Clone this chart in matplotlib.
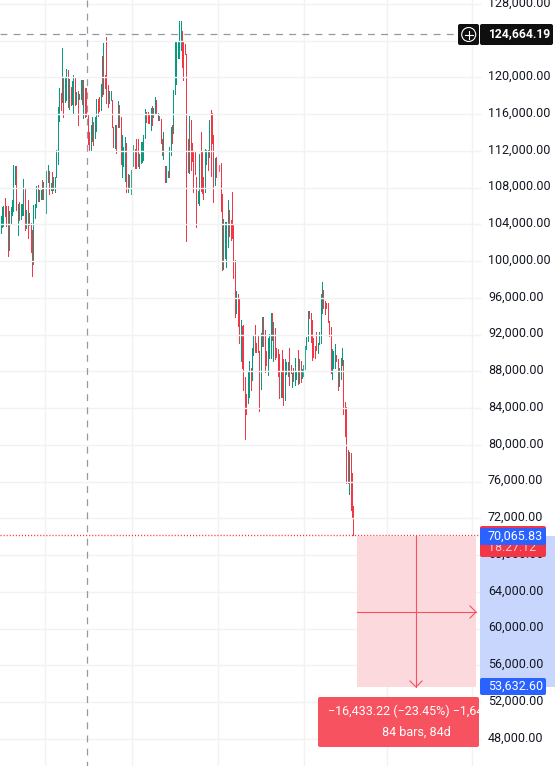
import numpy as np
import matplotlib
matplotlib.use('Agg')
import matplotlib.pyplot as plt
from matplotlib.patches import Rectangle, FancyBboxPatch, Circle

# daily candles, prices in thousands
opens = [106.3,103.8,103.8,104.9,105.9,105.9,104.5,104.0,104.5,105.0,105.6,108.4,108.8,105.7,106.2,104.7,105.1,105.1,107.8,103.6,
         105.2,104.0,104.1,103.1,99.8,105.2,106.0,108.1,106.7,106.9,108.5,107.0,107.6,105.2,108.6,109.7,107.7,109.6,107.8,108.4,
         109.2,112.0,116.7,118.2,117.5,119.8,117.5,117.8,120.0,117.5,118.4,117.2,117.1,119.4,117.3,118.4,117.7,117.8,119.3,115.7,
         118.7,117.8,116.0,114.0,112.1,113.9,115.1,114.2,115.0,117.5,117.8,116.4,119.3,118.2,120.3,119.3,119.2,117.3,117.5,117.5,
         114.6,112.4,114.6,114.6,117.0,114.8,110.7,110.4,108.8,112.4,107.5,109.4,108.4,108.5,110.3,111.2,111.3,111.3,110.3,110.7,
         110.8,111.0,113.5,116.2,116.2,116.0,114.8,116.9,115.7,116.1,117.5,115.4,115.8,115.4,113.3,111.7,110.3,108.6,109.8,109.2,
         111.5,114.8,113.9,119.3,119.3,122.1,123.0,123.2,125.0,123.8,123.4,122.5,113.3,109.7,115.4,112.8,112.0,111.9,109.2,106.4,
         106.3,111.7,111.9,109.2,107.6,110.7,112.1,111.3,116.4,116.1,113.7,109.3,111.3,109.5,110.5,110.7,107.3,100.4,100.4,102.0,
         101.6,105.6,104.5,105.4,102.5,100.0,94.3,96.4,95.9,89.1,92.9,93.0,87.4,85.5,84.6,85.2,88.4,87.1,90.0,91.1,
         91.1,90.4,90.2,86.1,90.8,93.9,92.5,90.2,88.8,89.5,89.5,94.3,89.3,92.7,90.5,90.4,89.9,85.2,89.3,89.3,
         85.0,87.7,87.8,88.7,88.7,86.5,88.4,86.9,87.2,88.0,87.2,89.1,87.3,88.2,89.2,90.4,91.3,94.6,94.3,93.6,
         91.6,90.7,90.7,90.1,91.0,91.1,94.4,96.9,95.7,95.4,95.4,93.5,92.8,88.4,88.4,88.6,89.8,89.3,86.4,87.2,
         88.7,89.2,84.7,84.1,79.4,74.6,79.1,76.9,73.3]
highs = [106.4,104.9,105.9,106.0,106.9,106.0,106.0,105.4,105.9,106.6,110.5,110.4,110.4,106.2,106.4,106.2,106.2,108.9,107.9,105.6,
         106.6,105.2,104.1,103.4,106.1,106.2,108.2,108.3,107.7,107.7,108.8,108.6,107.6,109.8,110.5,109.8,108.5,109.7,109.2,109.2,
         112.1,116.8,118.8,118.3,123.2,119.9,120.0,120.9,120.8,119.8,118.9,119.6,120.2,120.0,118.4,118.5,118.2,119.7,119.7,119.7,
         118.8,118.8,116.0,114.0,114.8,115.7,115.1,115.7,117.6,117.6,117.9,119.3,122.3,123.7,120.3,124.4,119.2,118.5,118.5,117.5,
         114.6,114.8,114.8,117.4,117.0,115.7,113.7,112.4,113.5,112.8,109.5,109.4,109.9,111.7,112.6,112.2,113.3,113.3,111.7,113.0,
         113.0,113.7,116.6,116.2,116.2,116.0,116.7,116.9,116.7,117.9,117.5,116.1,115.8,115.5,113.3,114.0,110.3,110.4,109.8,112.4,
         114.6,114.8,118.6,123.9,123.9,123.9,126.1,126.1,125.0,123.8,123.6,122.5,113.3,115.8,115.4,112.8,112.0,111.9,109.2,107.6,
         111.7,114.0,111.9,109.2,112.2,112.1,112.1,115.4,116.4,116.1,113.7,111.2,111.3,111.3,110.5,110.7,107.3,104.6,104.2,104.2,
         106.6,105.6,104.5,107.5,104.0,100.1,96.7,96.4,95.9,93.6,92.9,93.0,87.4,85.5,88.0,89.1,88.4,90.5,91.8,93.0,
         91.1,91.9,90.2,92.2,93.9,93.9,92.5,90.2,91.6,92.1,94.4,94.3,93.4,92.7,90.5,90.4,89.9,88.0,90.3,89.3,
         89.3,89.0,89.0,90.5,88.7,87.8,88.4,89.4,87.9,90.3,89.3,89.1,88.2,88.7,90.8,91.7,94.6,94.6,94.3,93.6,
         91.6,90.7,92.3,91.1,92.3,96.4,97.7,96.9,95.7,95.4,95.4,93.5,92.8,90.4,90.2,91.0,89.8,89.3,88.4,89.4,
         90.5,89.2,84.7,84.1,79.4,79.2,79.1,76.9,73.3]
lows = [103.4,103.1,103.7,103.8,104.9,103.8,100.5,101.2,104.0,105.0,105.4,108.4,105.6,102.8,104.5,104.6,105.0,105.0,103.4,103.6,
        102.5,103.9,101.0,98.4,99.7,104.7,105.9,106.5,106.5,106.8,106.7,106.7,105.2,105.2,108.6,107.3,107.7,107.4,107.7,107.5,
        109.2,110.6,115.2,116.4,117.3,115.7,117.3,117.5,116.8,116.5,117.0,117.1,116.0,117.0,117.1,114.8,117.6,117.6,117.1,115.6,
        115.7,115.8,112.7,112.1,112.0,113.1,112.6,113.4,114.2,115.8,116.3,116.4,118.0,118.2,118.8,117.2,116.8,117.2,117.5,114.6,
        112.4,112.3,111.8,114.6,114.6,110.6,109.2,110.3,108.7,107.5,107.5,107.9,107.3,108.4,110.3,110.1,110.1,110.3,110.1,110.7,
        110.8,111.0,113.4,115.1,115.0,115.0,114.3,114.8,115.7,116.0,116.0,115.4,115.3,112.8,111.5,111.1,108.6,108.6,109.2,109.2,
        111.5,112.8,113.9,118.2,119.3,122.1,122.1,123.0,121.1,119.7,122.5,102.2,109.7,109.6,109.9,110.9,107.5,109.5,103.7,106.3,
        106.1,107.6,107.4,106.7,107.5,110.6,109.9,111.3,109.3,112.8,106.4,108.3,109.2,109.5,109.8,105.4,99.0,99.1,100.3,99.4,
        101.5,102.7,102.3,102.5,98.2,93.9,94.3,92.9,91.1,89.1,88.4,86.0,80.6,83.3,84.6,85.2,86.0,87.1,89.8,90.1,
        90.1,90.1,83.7,86.1,90.7,90.8,87.9,88.7,87.6,89.5,89.5,91.4,89.1,89.3,89.6,87.5,85.1,85.2,85.2,84.3,
        84.9,87.7,87.5,86.5,87.8,86.3,86.9,86.5,87.2,86.6,86.7,86.8,87.3,87.5,88.2,90.4,91.3,93.8,91.2,89.2,
        89.6,89.5,90.3,90.0,91.0,91.1,94.4,94.9,94.2,94.9,93.4,91.8,87.8,87.2,88.4,88.4,89.1,86.0,86.4,87.2,
        88.7,83.3,81.0,75.8,75.8,74.6,72.9,72.0,70.2]
closes = [103.8,104.9,105.9,105.9,105.0,104.5,103.8,105.3,105.9,105.6,110.4,109.9,105.7,106.2,104.6,105.6,105.6,108.1,103.6,105.2,
          103.9,104.9,101.0,99.7,106.0,106.1,108.1,106.7,107.7,107.6,106.7,108.5,105.2,109.7,109.7,107.7,108.4,107.8,108.5,109.2,
          112.0,116.7,118.7,116.9,119.3,117.5,120.0,120.0,117.5,118.4,117.2,118.5,119.6,117.3,118.0,117.3,118.1,119.3,117.3,118.7,
          115.7,116.0,112.7,112.2,114.0,115.1,114.2,115.0,117.5,116.0,116.4,119.3,118.0,120.3,118.8,117.2,117.3,118.0,118.2,114.6,
          112.7,114.6,112.1,117.2,114.8,110.7,112.4,112.2,112.4,107.6,109.4,107.9,109.5,109.9,111.2,110.4,110.3,110.3,111.5,112.9,
          112.8,113.3,115.5,115.1,115.0,115.0,116.7,115.0,116.6,117.5,116.0,116.0,115.3,112.8,111.5,113.3,108.6,109.7,109.2,111.5,
          113.9,113.9,118.5,121.1,122.9,123.8,125.7,125.6,121.1,121.1,122.5,113.3,109.7,115.6,112.4,110.9,107.5,109.5,107.6,107.6,
          107.6,107.6,107.4,107.0,111.3,111.9,110.0,113.7,113.7,112.8,109.3,111.2,109.2,110.5,109.8,107.4,105.4,104.6,104.1,104.1,
          105.6,102.7,102.3,102.5,101.0,97.9,96.7,92.9,92.9,93.6,88.4,86.0,86.0,83.3,88.0,88.0,86.4,90.5,90.5,90.1,
          90.1,90.1,86.1,92.2,93.9,90.8,88.7,88.7,90.2,92.1,92.0,91.4,93.4,89.3,89.6,89.6,85.1,88.0,85.2,85.1,
          89.3,88.4,88.4,87.8,87.8,87.8,86.9,88.4,87.8,87.2,89.3,86.8,88.2,88.7,90.6,91.7,94.6,93.8,91.2,90.5,
          90.4,90.0,90.3,91.1,92.3,96.4,96.9,94.9,94.9,94.9,93.4,91.8,91.8,90.4,90.2,89.8,89.1,88.4,88.2,89.4,
          89.2,83.3,83.3,79.4,75.8,79.2,72.9,72.0,70.2]

price_ticks = [128000,124000,120000,116000,112000,108000,104000,100000,96000,92000,88000,84000,80000,76000,72000,68000,64000,60000,56000,52000,48000]
time_grid = [32,93,153,213,271,331]
last_price = 70065.83
high_price = 124664.19
target_price = 53632.60

W, H = 555, 766
plt.rcParams['font.family'] = ['Roboto', 'DejaVu Sans']
GREEN = '#089981'
RED = '#f23645'
TOOL = '#f7525f'
AXIS_X = 480
FS = 9.0
TOP_PX = 3.8
PX_PER_4K = 36.75

opens, highs, lows, closes = [np.array(a) * 1000 for a in (opens, highs, lows, closes)]
days = np.arange(len(opens))
colors = [GREEN if c >= o else RED for o, c in zip(opens, closes)]

fig = plt.figure(figsize=(W / 100, H / 100), dpi=100)
ax = fig.add_axes([0, 0, 1, 1])
bar_px = 120 / 84
ax.set_xlim(0.6, 0.6 + W / bar_px)
top = 128000 + TOP_PX * 4000 / PX_PER_4K
ax.set_ylim(top - H * 4000 / PX_PER_4K, top)
ax.axis('off')
px = fig.add_axes([0, 0, 1, 1])
px.set_xlim(0, W)
px.set_ylim(H, 0)
px.axis('off')
px.patch.set_alpha(0)

def price_y(p):
    return TOP_PX + (128000 - p) * PX_PER_4K / 4000

# grid stops at the price axis
for p in price_ticks:
    px.plot([0, AXIS_X], [price_y(p)] * 2, color='#f1f2f4', lw=1.0, zorder=1)
for d in time_grid:
    x = (d - 0.3) * bar_px
    px.plot([x, x], [0, H], color='#f1f2f4', lw=1.0, zorder=1)

ax.set_zorder(2)
px.set_zorder(3)
ax.vlines(days, lows, highs, colors=colors, lw=0.5, antialiased=False)
ax.vlines(days, np.minimum(opens, closes), np.maximum(opens, closes), colors=colors, lw=0.72, antialiased=False)

# crosshair and last price
y_high = price_y(high_price)
x_cross = 86.5
px.plot([x_cross, x_cross], [0, H], color='#9598a1', lw=0.9, dashes=(5.5, 5), zorder=2)
px.plot([0, 458], [y_high, y_high], color='#9598a1', lw=0.9, dashes=(5.5, 5), zorder=2)
y_last = price_y(last_price)
px.plot([0, AXIS_X], [y_last - 1.5] * 2, color=RED, lw=1.0, dashes=(0.8, 1.4), zorder=2)

# short position tool
y_target = price_y(target_price)
px.add_patch(Rectangle((357, y_last), 119, y_target - y_last, fc='#fcd9dc', ec='none', zorder=2))
px.add_patch(Rectangle((AXIS_X, y_last), W - AXIS_X, y_target - y_last, fc='#c8d6fd', ec='none', zorder=2))
px.plot([357, 476], [612, 612], color=TOOL, lw=0.8, zorder=3)
px.plot([470, 476, 470], [606, 612, 618], color=TOOL, lw=0.8, zorder=3)
px.plot([416, 416], [536, y_target], color=TOOL, lw=0.8, zorder=3)
px.plot([410, 416, 422], [681, 687, 681], color=TOOL, lw=0.8, zorder=3)

# price axis labels
for p in price_ticks:
    px.text(488, price_y(p) - 0.8, f'{p:,.2f}', fontsize=FS, color='#131722', va='center', ha='left', zorder=4)

def tag(x, y, w, h, color, z):
    px.add_patch(FancyBboxPatch((x, y), w, h, boxstyle='round,pad=0,rounding_size=2', fc=color, ec='none', zorder=z))

# black high label with plus button
tag(458, 24, 21, 21, '#0f0f0f', 5)
tag(480, 24, 73, 21, '#0f0f0f', 5)
px.add_patch(Circle((468.7, 34.5), 7, fc='none', ec='white', lw=0.8, zorder=6))
px.plot([464.7, 472.7], [34.5, 34.5], color='white', lw=0.8, zorder=6)
px.plot([468.7, 468.7], [30.5, 38.5], color='white', lw=0.8, zorder=6)
px.text(488, 34, f'{high_price:,.2f}', fontsize=FS - 0.3, fontweight='bold', color='white', va='center', zorder=6)

# last price and countdown
tag(480, 526, 66, 31, RED, 5)
tag(480, 528, 66, 17, '#2962ff', 6)
px.text(488, 535.8, f'{last_price:,.2f}', fontsize=FS, color='white', va='center', zorder=7)
px.text(488, 547.5, '18:27:12', fontsize=FS, color='#fbc9cd', va='center', zorder=5.5)

tag(480, 678, 66, 17, '#2962ff', 6)
px.text(488, 686.3, f'{target_price:,.2f}', fontsize=FS, color='white', va='center', zorder=7)

# tooltip, first row runs past the box
box = FancyBboxPatch((318, 697), 161, 50, boxstyle='round,pad=0,rounding_size=2', fc=TOOL, ec='none', zorder=5)
px.add_patch(box)
t = px.text(328, 711, '\u221216,433.22 (\u221223.45%) \u22121,643', fontsize=FS, color='white', va='center', zorder=6)
t.set_clip_path(Rectangle((318, 697), 161, 50, transform=px.transData))
px.text(416, 732, '84 bars, 84d', fontsize=FS, color='white', va='center', ha='center', zorder=6)

fig.savefig('out.png', dpi=100)
